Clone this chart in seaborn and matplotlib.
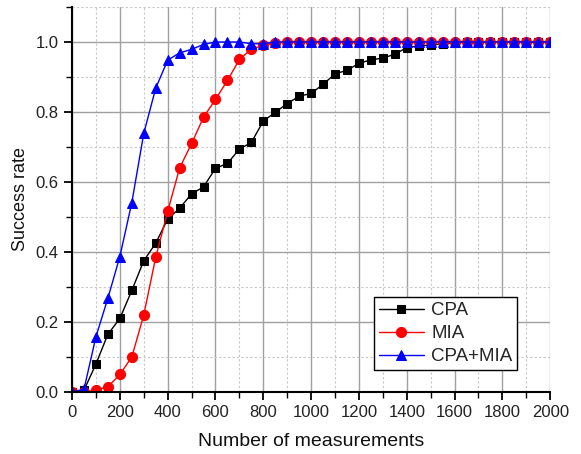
import pandas as pd
import matplotlib
matplotlib.use("Agg")
import matplotlib.pyplot as plt
import seaborn as sns
from matplotlib.ticker import MultipleLocator

# number of measurements (x axis)
measurements = [0, 50, 100, 150, 200, 250, 300, 350, 400, 450,
                500, 550, 600, 650, 700, 750, 800, 850, 900, 950,
                1000, 1050, 1100, 1150, 1200, 1250, 1300, 1350, 1400, 1450,
                1500, 1550, 1600, 1650, 1700, 1750, 1800, 1850, 1900, 1950,
                2000]

cpa = [0.0, 0.005, 0.08, 0.165, 0.21, 0.29, 0.375, 0.425, 0.494, 0.525,
       0.566, 0.586, 0.639, 0.653, 0.694, 0.713, 0.774, 0.799, 0.824, 0.845,
       0.853, 0.879, 0.909, 0.919, 0.939, 0.949, 0.954, 0.965, 0.984, 0.989,
       0.991, 0.995, 0.998, 1.0, 1.0, 1.0, 1.0, 1.0, 1.0, 1.0,
       1.0]

mia = [0.0, 0.0, 0.005, 0.015, 0.05, 0.10, 0.22, 0.385, 0.516, 0.64,
       0.71, 0.785, 0.836, 0.89, 0.95, 0.98, 0.99, 0.997, 1.0, 1.0,
       1.0, 1.0, 1.0, 1.0, 1.0, 1.0, 1.0, 1.0, 1.0, 1.0,
       1.0, 1.0, 1.0, 1.0, 1.0, 1.0, 1.0, 1.0, 1.0, 1.0,
       1.0]

cpa_mia = [0.0, 0.008, 0.158, 0.268, 0.387, 0.541, 0.739, 0.868, 0.948, 0.969,
           0.979, 0.993, 1.0, 1.0, 1.0, 0.995, 0.995, 1.0, 1.0, 1.0,
           1.0, 1.0, 1.0, 1.0, 1.0, 1.0, 1.0, 1.0, 1.0, 1.0,
           1.0, 1.0, 1.0, 1.0, 1.0, 1.0, 1.0, 1.0, 1.0, 1.0,
           1.0]

labels = ["CPA", "MIA", "CPA+MIA"]
colors = ["black", "red", "blue"]
markers = ["s", "o", "^"]
sizes = [6.2, 7.3, 7.5]

sns.set_style("ticks")
plt.rcParams['font.family'] = ['Liberation Sans', 'DejaVu Sans']

fig = plt.figure(figsize=(5.81, 4.54), dpi=100)
ax = fig.add_axes([0.124, 0.1366, 0.823, 0.848])

for vals, lab, col, mk, ms in zip([cpa, mia, cpa_mia], labels, colors, markers, sizes):
    df = pd.DataFrame({"x": measurements, "y": vals})
    sns.lineplot(data=df, x="x", y="y", ax=ax, color=col, marker=mk,
                 markersize=ms, markeredgecolor=col, linewidth=1.0, label=lab)

ax.set_xlim(0, 2000)
ax.set_ylim(0, 1.1)
ax.xaxis.set_major_locator(MultipleLocator(200))
ax.xaxis.set_minor_locator(MultipleLocator(100))
ax.yaxis.set_major_locator(MultipleLocator(0.2))
ax.yaxis.set_minor_locator(MultipleLocator(0.1))
ax.set_yticks([0.0, 0.2, 0.4, 0.6, 0.8, 1.0])
ax.set_yticklabels(["0.0", "0.2", "0.4", "0.6", "0.8", "1.0"])

ax.grid(which="major", color="#a0a0a0", linewidth=1.0, linestyle="-")
ax.grid(which="minor", color="#c8c8c8", linewidth=0.8, linestyle=(0, (2, 2)))
ax.set_axisbelow(True)

for s in ["top", "right"]:
    ax.spines[s].set_visible(False)
for s in ["left", "bottom"]:
    ax.spines[s].set_color("black")
    ax.spines[s].set_linewidth(1.5)

ax.tick_params(which="major", direction="out", length=6, width=1.3, labelsize=12, colors="black")
ax.tick_params(which="minor", direction="out", length=4, width=1.0, colors="black")
for t in ax.get_xticklabels() + ax.get_yticklabels():
    t.set_color("#222222")

ax.set_xlabel("Number of measurements", fontsize=14, color="#111111", labelpad=9)
ax.set_ylabel("Success rate", fontsize=13, color="#111111", labelpad=5)

leg = ax.legend(loc="lower right", bbox_to_anchor=(0.931, 0.057), fontsize=13.5,
                frameon=True, fancybox=False, edgecolor="black", framealpha=1,
                handlelength=2.4, handletextpad=0.4, labelspacing=0.32,
                borderpad=0.25, borderaxespad=0)
leg.get_frame().set_linewidth(1.0)

fig.savefig("out.png", dpi=100)
